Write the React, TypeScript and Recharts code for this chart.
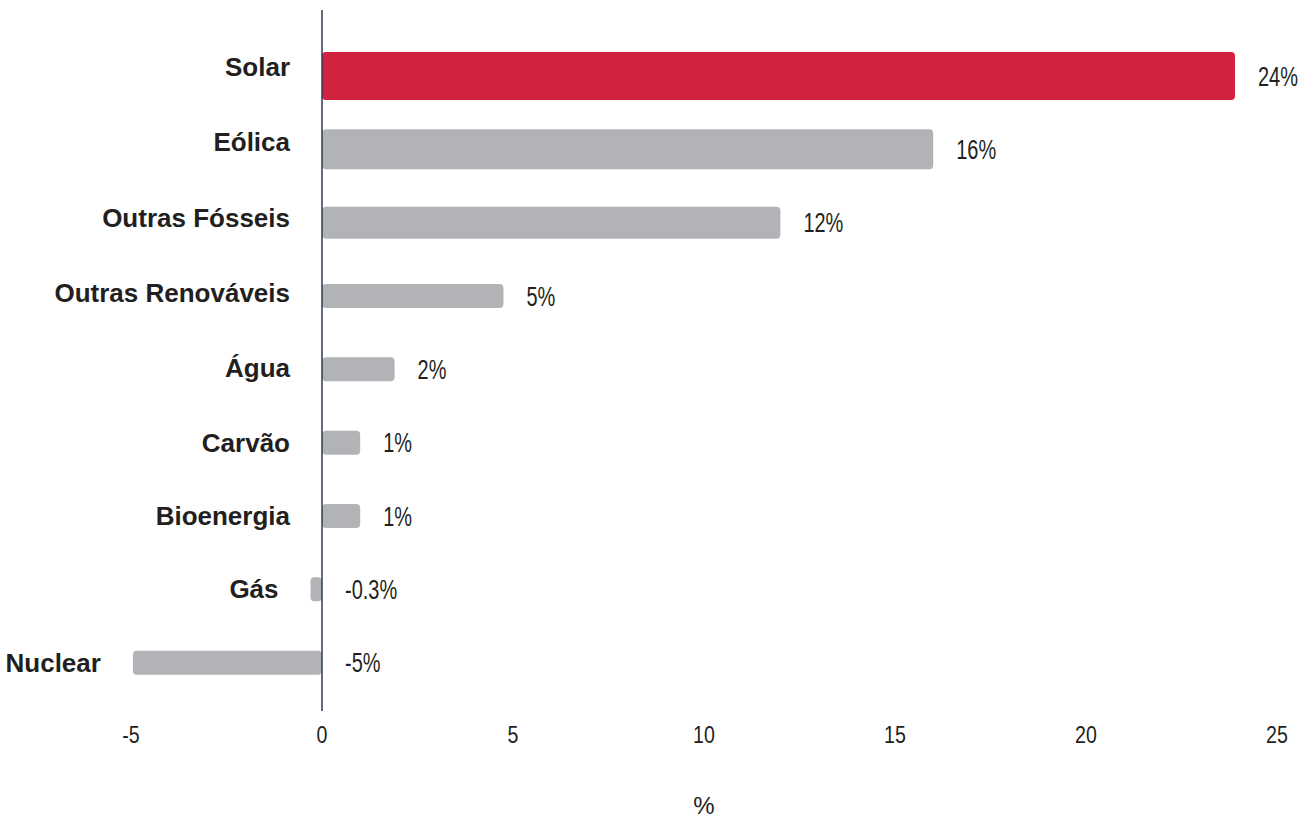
import { Bar, BarChart, Cell, LabelList, ReferenceLine, XAxis, YAxis } from "recharts";

const categories = ["Solar", "Eólica", "Outras Fósseis", "Outras Renováveis", "Água", "Carvão", "Bioenergia", "Gás", "Nuclear"];
const values = [23.9, 16.0, 12.0, 4.75, 1.9, 1.0, 1.0, -0.3, -4.95];
const valueLabels = ["24%", "16%", "12%", "5%", "2%", "1%", "1%", "-0.3%", "-5%"];
const xTicks = [-5, 0, 5, 10, 15, 20, 25];

const data = categories.map((name, i) => ({ name, value: values[i], label: valueLabels[i] }));

const RED = "#d3223f";
const GREY = "#b2b3b6";
const INK = "#231f20";
const font = "'Liberation Sans', Arial, sans-serif";

// bars get thinner toward the bottom, as in the original
const RoundBar = (props) => {
    const { x, y, width, height, index, fill } = props;
    const cy = y + height / 2;
    const t = Math.max(24, 48 - 8 * index);
    const x0 = Math.min(x, x + width);
    const w = Math.abs(width);
    return <rect x={x0} y={cy - t / 2} width={w} height={t} rx={4} ry={4} fill={fill} />;
};

const nameLabel = (props) => {
    const { x, y, width, height, value, index } = props;
    const left = Math.min(x, x + width);
    const lift = Math.max(0, 9 - 2 * index);
    return (
        <text x={left - 32} y={y + height / 2 - lift} textAnchor="end" dominantBaseline="central"
            fontFamily={font} fontWeight="bold" fontSize={26} fill={INK}>
            {value}
        </text>
    );
};

// condensed look: squeeze Liberation Sans horizontally
const valueLabel = (props) => {
    const { x, y, width, height, value } = props;
    const right = Math.max(x, x + width);
    return (
        <text transform={`translate(${right + 23},${y + height / 2}) scale(0.74,1)`} textAnchor="start"
            dominantBaseline="central" fontFamily={font} fontSize={27} fill={INK}>
            {value}
        </text>
    );
};

const TickNum = (props) => {
    const { x, y, payload } = props;
    return (
        <text transform={`translate(${x},${y}) scale(0.8,1)`} textAnchor="middle" dy="0.71em"
            fontFamily={font} fontSize={24.5} fill={INK}>
            {payload.value}
        </text>
    );
};

export default function App() {
    return (
        <div style={{ position: "absolute", left: 0, top: 0 }}>
            <BarChart
                width={1316}
                height={818}
                data={data}
                layout="vertical"
                margin={{ top: 10, right: 39, left: 131, bottom: 0 }}
            >
                <XAxis
                    type="number"
                    domain={[-5, 25]}
                    ticks={xTicks}
                    axisLine={false}
                    tickLine={false}
                    tickMargin={9}
                    height={107}
                    tick={TickNum}
                    label={{ value: "%", position: "insideBottom", offset: 4, fontFamily: font, fontSize: 24, fill: INK }}
                />
                <YAxis type="category" dataKey="name" hide width={0} padding={{ top: 29, bottom: 12 }} />
                <ReferenceLine x={0} stroke="#2b3a4f" strokeWidth={1.5} />
                <Bar dataKey="value" barSize={48} shape={RoundBar} isAnimationActive={false}>
                    {data.map((d, i) => (
                        <Cell key={d.name} fill={i === 0 ? RED : GREY} />
                    ))}
                    <LabelList dataKey="name" content={nameLabel} />
                    <LabelList dataKey="label" content={valueLabel} />
                </Bar>
            </BarChart>
        </div>
    );
}
